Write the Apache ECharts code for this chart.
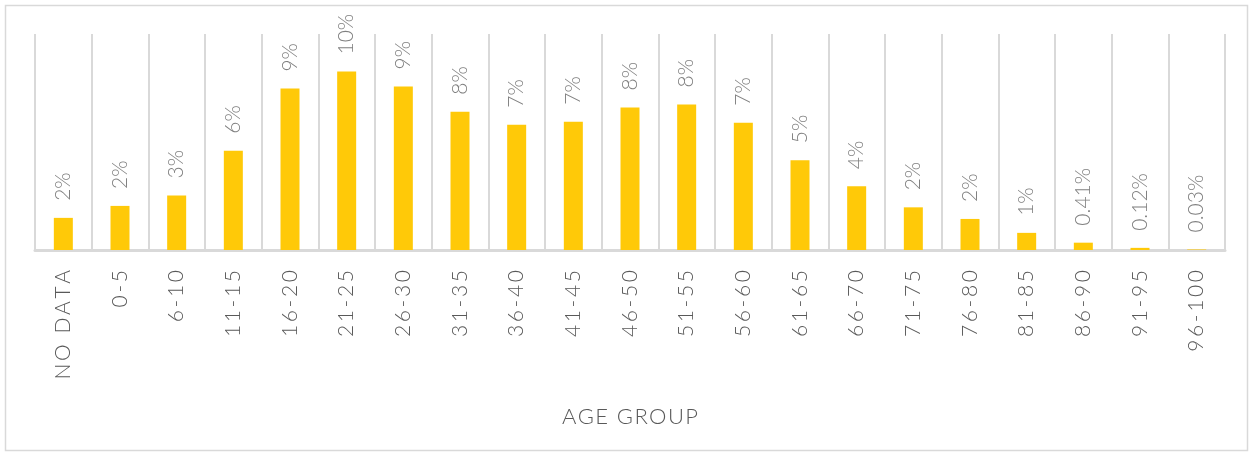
<!DOCTYPE html>
<html>
<head>
<meta charset="utf-8">
<script src="https://cdn.jsdelivr.net/npm/echarts@6/dist/echarts.min.js"></script>
<style>
  html, body { margin: 0; padding: 0; background: #fff; }
  #chart { width: 1252px; height: 453px; }
</style>
</head>
<body>
<div id="chart"></div>
<script>
const categories = ['NO DATA', '0-5', '6-10', '11-15', '16-20', '21-25', '26-30', '31-35', '36-40', '41-45',
  '46-50', '51-55', '56-60', '61-65', '66-70', '71-75', '76-80', '81-85', '86-90', '91-95', '96-100']
// share of people per age group, in %
const shares = [1.8, 2.47, 3.06, 5.56, 9.04, 10.0, 9.16, 7.75, 7.02, 7.19,
  7.98, 8.15, 7.13, 5.03, 3.57, 2.39, 1.74, 0.96, 0.41, 0.12, 0.03]
const axisTitle = 'AGE GROUP'

const chart = echarts.init(document.getElementById('chart'))

// spread letters a little, like the source
const spaced = (s, sep) => s.split('').join(sep || '\u2009')

const option = {
  animation: false,
  textStyle: { fontFamily: 'Lato', fontWeight: 300 },
  graphic: [{
    type: 'rect',
    shape: { x: 5.5, y: 5.5, width: 1242, height: 445 },
    style: { fill: 'none', stroke: '#d9d9d9', lineWidth: 1.5 },
    silent: true
  }],
  grid: { left: 35, right: 27, top: 34, bottom: 203 },
  xAxis: {
    type: 'category',
    data: categories,
    name: spaced(axisTitle, '\u200A'),
    nameLocation: 'middle',
    nameGap: 156,
    nameTextStyle: { fontSize: 22, color: '#595959', fontFamily: 'Lato', fontWeight: 300 },
    axisTick: { show: false },
    axisLine: { lineStyle: { color: '#d9d9d9', width: 3 } },
    splitLine: { show: true, interval: 0, lineStyle: { color: '#d9d9d9', width: 2 } },
    axisLabel: {
      interval: 0,
      rotate: 90,
      margin: 20,
      fontSize: 21,
      color: '#595959',
      fontFamily: 'Lato',
      fontWeight: 300,
      formatter: (v) => spaced(v)
    }
  },
  yAxis: {
    type: 'value',
    min: 0,
    max: 12.1,
    show: false,
    splitLine: { show: false }
  },
  series: [{
    type: 'bar',
    data: shares,
    barWidth: 19,
    itemStyle: { color: '#ffc908' },
    label: {
      show: true,
      position: 'top',
      rotate: 90,
      align: 'left',
      verticalAlign: 'middle',
      distance: 17,
      fontSize: 21,
      color: '#808080',
      fontFamily: 'Lato',
      fontWeight: 300,
      formatter: (p) => (p.value < 0.5 ? p.value.toFixed(2) : Math.round(p.value)) + '%'
    }
  }]
}

chart.setOption(option)
</script>
</body>
</html>
